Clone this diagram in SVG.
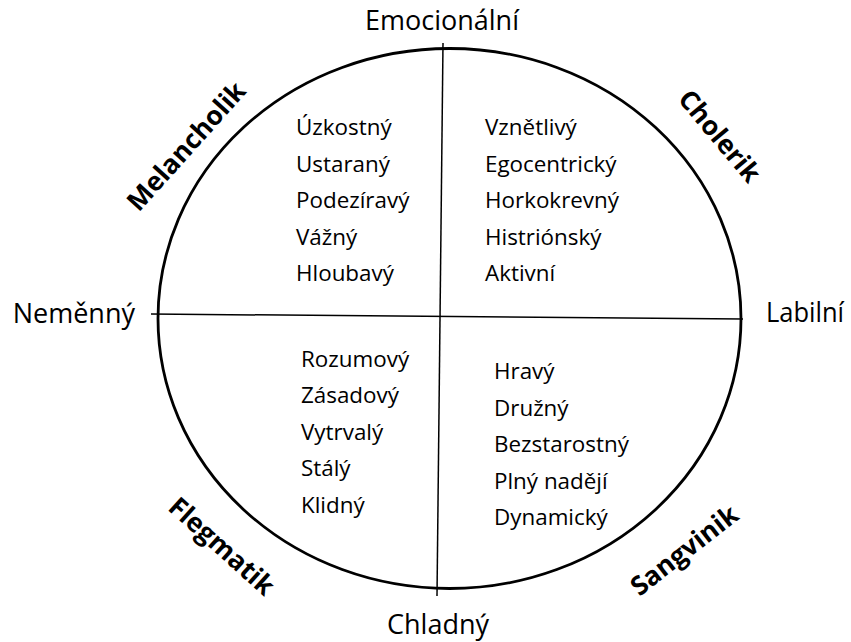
<svg xmlns="http://www.w3.org/2000/svg" width="851" height="642" viewBox="0 0 851 642">
<style>
text{font-family:"Open Sans","Noto Sans","Liberation Sans",sans-serif;fill:#000}
.ax{font-size:27px}
.it{font-size:22.4px}
.ty{font-size:26.5px;font-weight:bold}
.ln{stroke:#000;stroke-width:1.5;fill:none}
</style>
<rect width="851" height="642" fill="#fff"/>
<g id="circle"><ellipse cx="449.5" cy="318.5" rx="291.5" ry="270" fill="none" stroke="#000" stroke-width="2.8"/></g>
<g id="connectors">
<line class="ln" x1="443" y1="43" x2="437" y2="596"/>
<line class="ln" x1="151" y1="314" x2="743" y2="319"/>
</g>
<g id="axis-labels">
<text class="ax" x="442" y="30" text-anchor="middle">Emocionální</text>
<text class="ax" x="135" y="323" text-anchor="end">Neměnný</text>
<text class="ax" x="766" y="322" textLength="78" lengthAdjust="spacingAndGlyphs">Labilní</text>
<text class="ax" x="438" y="634" text-anchor="middle">Chladný</text>
</g>
<g id="melancholik">
<text class="ty" x="186" y="146" dy="0.36em" text-anchor="middle" transform="rotate(-48 186 146)">Melancholik</text>
<text class="it" x="296" y="135">Úzkostný</text>
<text class="it" x="296" y="171.5">Ustaraný</text>
<text class="it" x="296" y="208">Podezíravý</text>
<text class="it" x="296" y="244.5">Vážný</text>
<text class="it" x="296" y="281">Hloubavý</text>
</g>
<g id="cholerik">
<text class="ty" x="720" y="136" dy="0.36em" text-anchor="middle" transform="rotate(50 720 136)">Cholerik</text>
<text class="it" x="485" y="135">Vznětlivý</text>
<text class="it" x="485" y="171.5">Egocentrický</text>
<text class="it" x="485" y="208">Horkokrevný</text>
<text class="it" x="485" y="244.5">Histriónský</text>
<text class="it" x="485" y="281">Aktivní</text>
</g>
<g id="flegmatik">
<text class="ty" x="222" y="546" dy="0.36em" text-anchor="middle" transform="rotate(42 222 546)">Flegmatik</text>
<text class="it" x="301" y="366.5">Rozumový</text>
<text class="it" x="301" y="403">Zásadový</text>
<text class="it" x="301" y="439.5">Vytrvalý</text>
<text class="it" x="301" y="476">Stálý</text>
<text class="it" x="301" y="512.5">Klidný</text>
</g>
<g id="sangvinik">
<text class="ty" x="684" y="550" dy="0.36em" text-anchor="middle" transform="rotate(-38 684 550)">Sangvinik</text>
<text class="it" x="494" y="379">Hravý</text>
<text class="it" x="494" y="415.5">Družný</text>
<text class="it" x="494" y="452">Bezstarostný</text>
<text class="it" x="494" y="488.5">Plný nadějí</text>
<text class="it" x="494" y="525">Dynamický</text>
</g>
</svg>
